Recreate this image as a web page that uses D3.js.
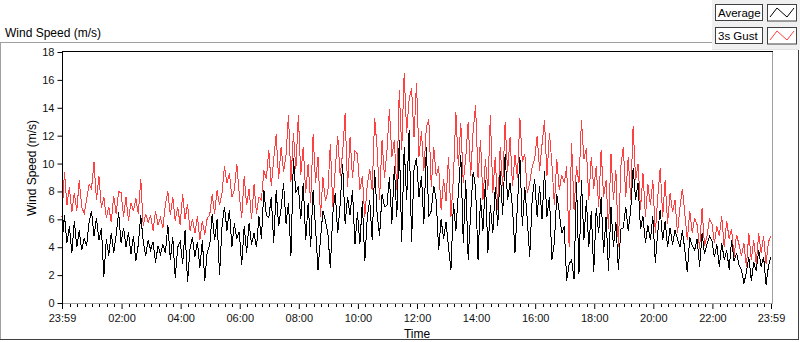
<!DOCTYPE html>
<html><head><meta charset="utf-8">
<script src="https://cdn.jsdelivr.net/npm/d3@7"></script>
<style>
html,body{margin:0;padding:0;background:#fff;}
svg{display:block;font-family:"Liberation Sans",Arial,sans-serif;}
</style>
</head><body>
<svg id="chart" width="800" height="342"></svg>
<script>
// ---- data (5-minute samples from 23:59 to 23:59) ----
const chartTitle = "Wind Speed (m/s)";
const yAxisTitle = "Wind Speed (m/s)";
const xAxisTitle = "Time";
const seriesNames = ["Average", "3s Gust"];
const sampleMinutes = 5;
const gust = [
 6.2,9.4,7.0,8.3,6.5,7.9,6.6,8.8,6.9,6.4,7.4,8.5,
 8.2,10.1,7.4,9.1,6.8,7.6,6.1,6.9,5.8,7.7,6.4,8.0,
 7.9,6.2,7.6,5.9,7.2,6.6,7.5,6.4,8.9,5.5,6.4,5.8,
 6.3,5.2,6.6,5.6,6.1,5.4,7.1,8.0,6.3,7.6,5.9,6.9,
 5.6,7.8,6.0,7.1,5.2,6.0,5.0,6.2,4.5,5.9,4.9,6.1,
 6.3,7.8,6.4,8.1,7.0,7.9,9.8,8.6,9.3,7.6,8.1,10.0,
 7.8,6.1,9.1,7.0,8.2,6.0,8.5,6.4,7.6,7.4,9.5,8.9,
 11.0,8.4,10.3,12.1,8.9,11.2,9.4,10.6,13.5,8.7,12.2,9.6,
 13.5,9.2,11.2,7.9,10.0,7.2,12.1,8.6,10.5,6.2,9.0,7.3,
 8.0,11.4,6.9,9.6,12.0,9.1,10.8,13.6,8.3,11.9,9.0,10.9,
 10.7,8.1,9.1,6.2,8.5,9.6,8.1,13.3,11.1,7.4,11.7,9.0,
 10.9,13.9,10.5,11.7,8.1,15.3,11.0,16.5,12.2,14.6,15.4,11.9,
 15.8,10.5,12.3,9.5,12.6,13.2,8.3,11.2,9.1,9.8,6.7,8.9,
 7.3,10.5,6.2,9.0,13.7,9.8,12.9,8.6,10.4,13.0,9.1,12.3,
 14.2,9.0,11.7,7.4,10.3,8.1,13.5,7.9,10.5,6.7,11.2,8.4,
 13.0,9.4,11.9,8.4,10.6,9.0,13.3,10.1,10.7,7.9,8.6,9.8,
 10.3,12.0,9.5,11.4,13.1,9.1,12.2,10.0,7.0,10.3,8.1,9.2,
 8.6,9.8,4.0,11.5,6.7,9.8,8.6,13.1,10.3,11.1,7.4,10.5,
 8.2,9.8,6.9,11.0,7.6,8.8,5.3,10.7,7.4,9.5,4.0,9.8,
 11.2,7.6,10.5,7.4,12.7,8.8,10.0,6.7,9.3,6.2,8.5,7.0,
 8.8,5.0,7.6,9.7,6.2,8.8,5.7,7.9,6.5,7.4,5.0,6.8,
 8.2,6.4,4.5,6.6,5.0,6.1,5.6,3.9,6.8,4.1,4.8,6.0,
 5.7,4.3,5.5,4.8,6.2,4.0,5.9,4.6,5.3,3.3,4.9,4.2,
 3.4,4.3,2.6,5.0,3.1,4.5,2.8,5.0,3.6,4.8,2.8,4.4,4.8
];
const average = [
 4.2,6.3,4.3,5.5,3.6,5.9,4.0,5.2,3.8,4.6,4.1,5.8,
 6.6,4.8,6.1,4.5,5.4,1.9,4.6,3.4,5.0,3.6,4.9,6.5,
 4.3,5.4,4.0,5.1,3.5,4.8,3.0,4.2,6.3,4.4,3.4,4.5,
 3.8,4.4,2.9,4.1,3.5,4.2,3.6,5.6,3.1,4.7,1.8,4.0,
 4.4,2.8,5.2,1.5,3.9,4.7,3.3,4.4,2.5,4.5,1.6,3.7,
 4.1,6.4,4.5,6.0,2.0,5.5,6.9,5.2,6.7,4.0,5.7,4.6,
 5.1,2.7,5.5,3.6,5.7,4.2,5.0,4.0,6.2,4.6,8.1,6.3,
 6.1,7.6,4.3,8.1,5.5,6.8,8.6,5.7,7.2,3.4,10.4,7.9,
 8.4,6.0,8.6,4.5,7.2,4.0,8.1,5.3,2.4,4.6,6.6,5.9,
 5.0,2.5,6.4,7.9,5.0,7.1,10.0,5.7,7.6,6.3,8.1,4.2,
 6.5,4.2,7.3,3.0,6.1,7.4,4.5,9.5,6.4,4.8,7.8,6.9,
 7.0,9.0,5.7,9.8,6.2,11.7,4.4,11.2,7.4,12.4,4.4,9.6,
 10.4,7.6,9.1,5.7,11.2,6.2,6.6,8.4,7.4,3.8,6.0,4.6,
 5.8,4.0,2.4,7.2,5.2,7.9,10.6,4.3,8.8,3.1,6.5,9.4,
 8.3,3.1,7.5,5.2,8.8,3.6,7.0,5.0,8.3,5.5,9.5,6.3,
 10.7,7.4,8.6,6.8,3.6,7.0,10.5,5.5,8.3,6.0,3.3,7.5,
 8.9,6.2,8.4,6.0,9.5,6.2,7.6,3.1,4.3,7.8,6.5,5.0,
 5.5,1.6,2.8,3.1,1.7,8.7,2.1,8.8,4.5,7.4,4.0,6.6,
 2.2,6.8,5.0,7.6,3.6,6.2,2.3,6.9,4.0,5.8,2.4,5.3,
 5.4,6.9,5.2,6.6,9.7,7.4,8.6,5.3,6.2,4.3,5.6,4.5,
 6.2,2.9,5.1,6.7,4.5,5.9,4.0,5.4,4.2,5.2,4.6,4.0,
 5.2,3.8,2.2,4.7,4.1,3.8,4.6,2.6,5.0,3.5,4.2,4.8,
 4.5,3.3,4.2,2.6,4.3,3.1,3.8,2.4,4.5,3.0,3.6,2.7,
 2.4,1.4,2.2,3.3,1.6,2.9,2.3,3.8,2.6,3.3,1.3,2.7,3.3
];
const yTickValues = [0,2,4,6,8,10,12,14,16,18];
const xTickLabels = ["23:59","02:00","04:00","06:00","08:00","10:00","12:00","14:00","16:00","18:00","20:00","22:00","23:59"];

// ---- layout ----
const svg = d3.select("#chart");
const plot = {left: 62, right: 771, top: 52, bottom: 303};
const start = new Date(2000, 0, 1, 23, 59);
const end = new Date(2000, 0, 2, 23, 59);
const x = d3.scaleTime().domain([start, end]).range([plot.left, plot.right]);
const y = d3.scaleLinear().domain([0, 18]).range([plot.bottom, plot.top]);
const timeOf = i => new Date(start.getTime() + i * sampleMinutes * 60000);

const tickDates = xTickLabels.map((l, i) => {
  if (i === 0) return start;
  if (i === xTickLabels.length - 1) return end;
  return new Date(2000, 0, 2, +l.slice(0, 2), +l.slice(3, 5));
});

// outer frame
svg.append("rect").attr("x", 712).attr("y", 0).attr("width", 88).attr("height", 49).attr("fill", "#f0f0f0");
svg.append("line").attr("x1", 0).attr("x2", 712).attr("y1", 42.5).attr("y2", 42.5).attr("stroke", "#a0a0a0");
svg.append("line").attr("x1", 712).attr("x2", 799).attr("y1", 49.5).attr("y2", 49.5).attr("stroke", "#e3e3e3");
svg.append("line").attr("x1", 0.5).attr("x2", 0.5).attr("y1", 42).attr("y2", 340).attr("stroke", "#a0a0a0");
svg.append("line").attr("x1", 0).attr("x2", 799).attr("y1", 339.5).attr("y2", 339.5).attr("stroke", "#404040");
svg.append("line").attr("x1", 798.5).attr("x2", 798.5).attr("y1", 50).attr("y2", 340).attr("stroke", "#404040");

// title
svg.append("text").attr("x", 5).attr("y", 37).attr("font-size", 12).attr("fill", "#000").text(chartTitle);

// plot background
svg.append("rect").attr("x", plot.left).attr("y", plot.top).attr("width", 772 - plot.left).attr("height", plot.bottom - plot.top).attr("fill", "#fff");

// series
const line = d3.line().x((d, i) => x(timeOf(i))).y(d => y(d));
svg.append("path").datum(gust).attr("d", line).attr("fill", "none").attr("stroke", "#ff4040").attr("stroke-width", 1).attr("shape-rendering", "crispEdges");
svg.append("path").datum(average).attr("d", line).attr("fill", "none").attr("stroke", "#000").attr("stroke-width", 1).attr("shape-rendering", "crispEdges");

// plot borders
svg.append("line").attr("x1", 772.5).attr("x2", 772.5).attr("y1", plot.top).attr("y2", plot.bottom + 1).attr("stroke", "#a0a0a0");
svg.append("line").attr("x1", plot.left).attr("x2", 773).attr("y1", plot.bottom + 0.5).attr("y2", plot.bottom + 0.5).attr("stroke", "#a0a0a0");
svg.append("line").attr("x1", plot.left).attr("x2", 773).attr("y1", plot.top - 0.5).attr("y2", plot.top - 0.5).attr("stroke", "#000");
svg.append("line").attr("x1", plot.left + 0.5).attr("x2", plot.left + 0.5).attr("y1", plot.top - 1).attr("y2", plot.bottom + 1).attr("stroke", "#000");

// y axis
const yAxis = d3.axisLeft(y).tickValues(yTickValues).tickSize(5).tickPadding(3).tickFormat(d3.format("d"));
const gy = svg.append("g").attr("transform", `translate(${plot.left + 0.5},0)`).call(yAxis);
gy.select(".domain").remove();
gy.selectAll("line").attr("stroke", "#000");
gy.selectAll("text").attr("font-size", 11).attr("font-family", "Liberation Sans, Arial, sans-serif").attr("fill", "#111");

// x axis minor ticks
const minor = d3.timeMinute.every(15).range(start, end).filter(d => !tickDates.some(t => Math.abs(t - d) < 60000 * 2));
svg.append("g").selectAll("line").data(minor).join("line")
  .attr("x1", d => Math.round(x(d)) + 0.5).attr("x2", d => Math.round(x(d)) + 0.5)
  .attr("y1", plot.bottom + 1).attr("y2", plot.bottom + 4).attr("stroke", "#000");
const xAxis = d3.axisBottom(x).tickValues(tickDates).tickSize(6).tickPadding(5).tickFormat((d, i) => xTickLabels[i]);
const gx = svg.append("g").attr("transform", `translate(0,${plot.bottom})`).call(xAxis);
gx.select(".domain").remove();
gx.selectAll("line").attr("stroke", "#000").attr("y1", 1);
gx.selectAll("text").attr("font-size", 11).attr("font-family", "Liberation Sans, Arial, sans-serif").attr("fill", "#111");

// axis titles
svg.append("text").attr("x", 417).attr("y", 338).attr("text-anchor", "middle").attr("font-size", 12).attr("fill", "#000").text(xAxisTitle);
svg.append("text").attr("transform", "translate(36,168) rotate(-90)").attr("text-anchor", "middle").attr("font-size", 12).attr("fill", "#000").text(yAxisTitle);

// legend
const legendColors = ["#000", "#ff4040"];
seriesNames.forEach((name, i) => {
  const y0 = 4 + i * 23;
  svg.append("rect").attr("x", 715.5).attr("y", y0 + 0.5).attr("width", 47).attr("height", 16).attr("fill", "#fff").attr("stroke", "#404040");
  svg.append("text").attr("x", 718).attr("y", y0 + 12.5).attr("font-size", 11.5).attr("fill", "#000").text(name);
  svg.append("rect").attr("x", 767.5).attr("y", y0 + 0.5).attr("width", 29).attr("height", 16.5).attr("fill", "#fff").attr("stroke", "#404040");
  svg.append("polyline").attr("points", [[770, y0 + 13], [777, y0 + 4], [787, y0 + 13], [794, y0 + 4]].map(p => p.join(",")).join(" "))
    .attr("fill", "none").attr("stroke", legendColors[i]).attr("stroke-width", 1);
});
</script>
</body></html>
